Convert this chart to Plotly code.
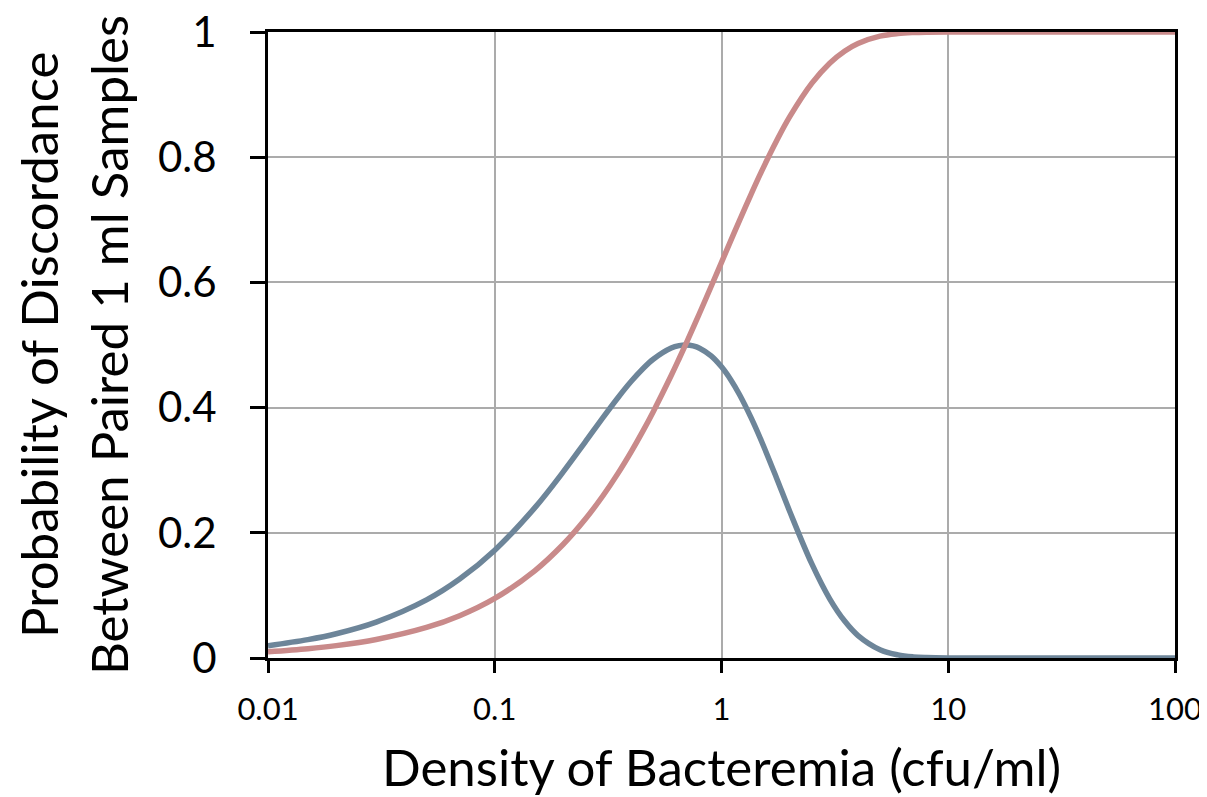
import plotly.graph_objects as go

density = [0.01, 0.015, 0.02, 0.03, 0.05, 0.07, 0.1, 0.15, 0.2, 0.25, 0.3, 0.35, 0.4, 0.45, 0.5,
           0.6, 0.65, 0.7, 0.75, 0.8, 0.9, 1.0, 1.1, 1.2, 1.35, 1.5, 1.75, 2.0, 2.5, 3.0,
           3.5, 4.0, 5.0, 6.0, 7.0, 8.0, 10.0, 20.0, 50.0, 100.0]
discordance = [0.0197, 0.0294, 0.0388, 0.0574, 0.0928, 0.1261, 0.1723, 0.2398, 0.2969, 0.3445,
               0.3840, 0.4162, 0.4420, 0.4621, 0.4773, 0.4952, 0.4990, 0.5000, 0.4985, 0.4949,
               0.4826, 0.4651, 0.4442, 0.4210, 0.3840, 0.3467, 0.2872, 0.2340, 0.1507, 0.0946,
               0.0586, 0.0359, 0.0133, 0.0050, 0.0018, 0.0007, 0.0001, 0.0, 0.0, 0.0]
positive = [0.0100, 0.0149, 0.0198, 0.0296, 0.0488, 0.0676, 0.0952, 0.1393, 0.1813, 0.2212,
            0.2592, 0.2953, 0.3297, 0.3624, 0.3935, 0.4512, 0.4780, 0.5034, 0.5276, 0.5507,
            0.5934, 0.6321, 0.6671, 0.6988, 0.7408, 0.7769, 0.8262, 0.8647, 0.9179, 0.9502,
            0.9698, 0.9817, 0.9933, 0.9975, 0.9991, 0.9997, 1.0, 1.0, 1.0, 1.0]

x_tickvals = [0.01, 0.1, 1, 10, 100]
x_ticktext = ["0.01", "0.1", "1", "10", "100"]
y_tickvals = [0, 0.2, 0.4, 0.6, 0.8, 1]
y_ticktext = ["0", "0.2", "0.4", "0.6", "0.8", "1"]

FONT = "Lato"

fig = go.Figure()
fig.add_trace(go.Scatter(x=density, y=discordance, mode="lines",
                         line=dict(color="#6d8599", width=5.5, shape="spline"),
                         showlegend=False))
fig.add_trace(go.Scatter(x=density, y=positive, mode="lines",
                         line=dict(color="#c98a8a", width=5.5, shape="spline"),
                         showlegend=False))

fig.update_layout(
    width=1199, height=789,
    margin=dict(l=260, r=32, t=24, b=139, autoexpand=False),
    paper_bgcolor="white", plot_bgcolor="white",
    font=dict(family=FONT, color="black"),
    xaxis=dict(type="log", range=[-2, 2], tickvals=x_tickvals, ticktext=x_ticktext,
               tickfont=dict(size=31, family=FONT), showgrid=True, gridcolor="#ababab", gridwidth=2,
               showline=True, linecolor="black", linewidth=3, mirror=True,
               ticks="outside", ticklen=12, tickwidth=3, tickcolor="black",
               ticklabelstandoff=10, automargin=False, ticklabeloverflow="allow",
               zeroline=False, layer="below traces"),
    yaxis=dict(range=[0, 1], tickvals=y_tickvals, ticktext=y_ticktext,
               tickfont=dict(size=42, family=FONT), showgrid=True, gridcolor="#ababab", gridwidth=2,
               showline=True, linecolor="black", linewidth=3, mirror=True,
               ticks="outside", ticklen=15, tickwidth=3, tickcolor="black",
               ticklabelstandoff=25, automargin=False, ticklabeloverflow="allow",
               zeroline=False, layer="below traces"),
)

fig.add_annotation(text="Density of Bacteremia (cfu/ml)", xref="paper", yref="paper",
                   x=0.5, y=0, yshift=-108, xanchor="center", yanchor="middle",
                   showarrow=False, font=dict(size=51, family=FONT))
fig.add_annotation(text="Probability of Discordance",
                   xref="paper", yref="paper", x=0, y=0.5, xshift=-230,
                   xanchor="center", yanchor="middle", textangle=-90,
                   showarrow=False, font=dict(size=51, family=FONT))
fig.add_annotation(text="Between Paired 1 ml Samples",
                   xref="paper", yref="paper", x=0, y=0.5, xshift=-160,
                   xanchor="center", yanchor="middle", textangle=-90,
                   showarrow=False, font=dict(size=51, family=FONT))

fig.write_html("out.html")
